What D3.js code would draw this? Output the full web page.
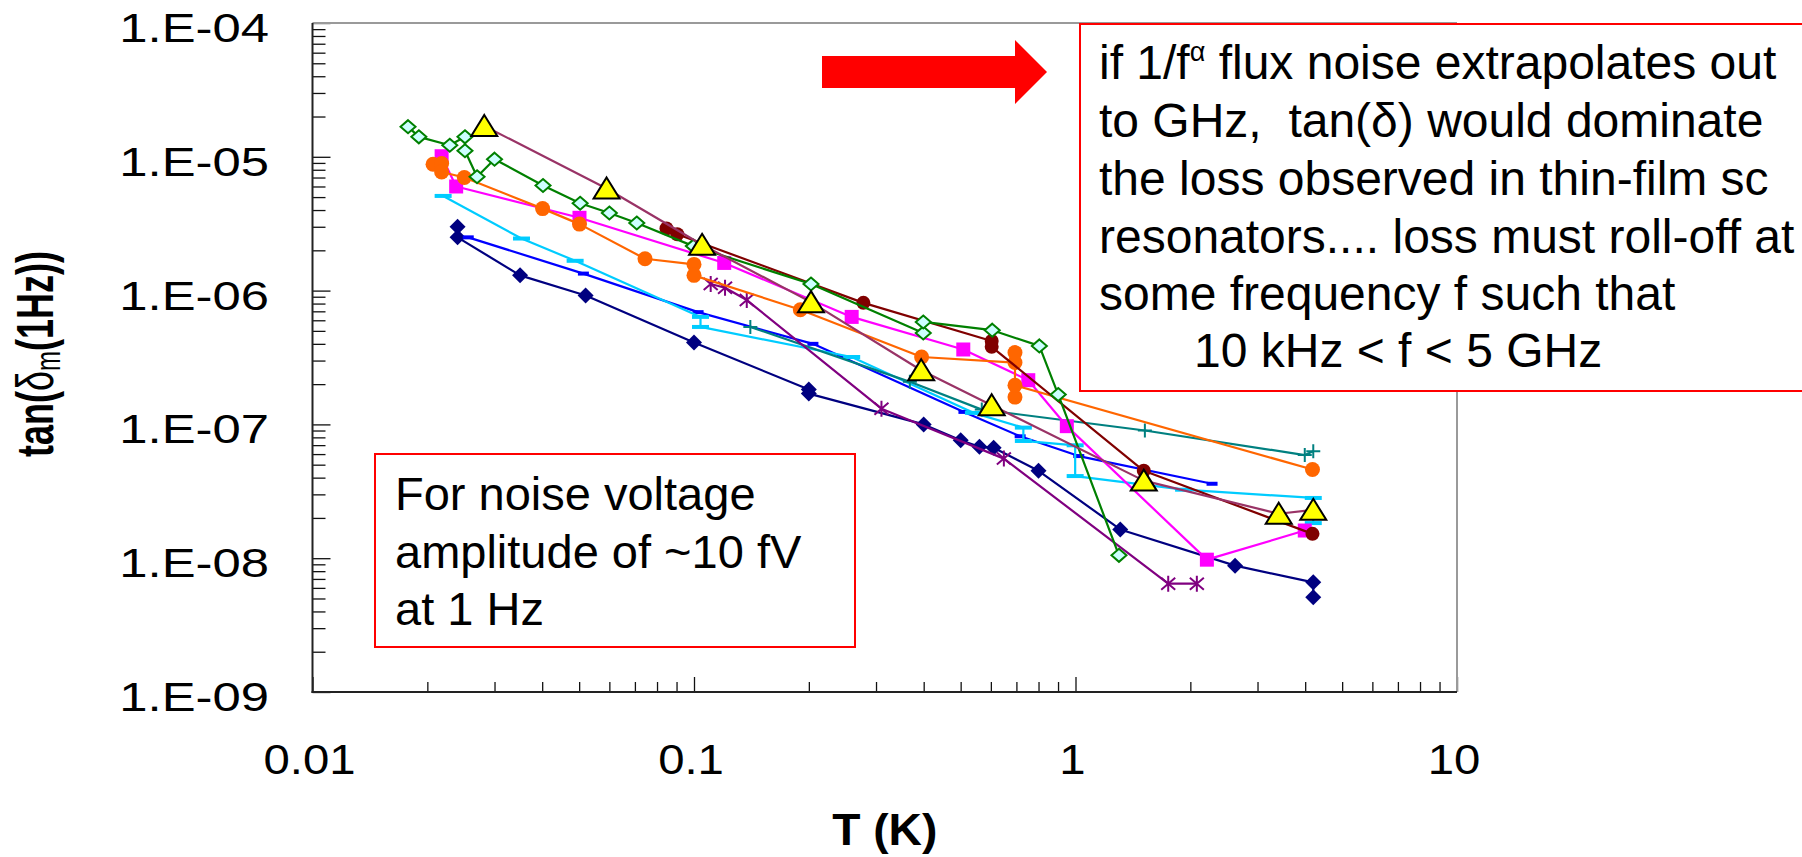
<!DOCTYPE html>
<html><head><meta charset="utf-8">
<script src="https://cdn.jsdelivr.net/npm/d3@7"></script>
<style>html,body{margin:0;padding:0;background:#fff;overflow:hidden}</style>
</head><body>
<svg id="chart" width="1802" height="857" xmlns="http://www.w3.org/2000/svg"></svg>
<script>
// ---------- data ----------
const xTickValues = [0.01, 0.1, 1, 10];
const xTickLabels = ["0.01", "0.1", "1", "10"];
const yTickValues = [1e-4, 1e-5, 1e-6, 1e-7, 1e-8, 1e-9];
const yTickLabels = ["1.E-04", "1.E-05", "1.E-06", "1.E-07", "1.E-08", "1.E-09"];

const navyT = [0.024,0.024,0.035,0.052,0.1,0.2,0.2,0.4,0.5,0.56,0.61,0.8,1.31,2.62,4.2,4.2];
const navyV = [3.0e-6,2.5e-6,1.3e-6,9.2e-7,4.1e-7,1.82e-7,1.7e-7,1.0e-7,7.6e-8,6.8e-8,6.7e-8,4.5e-8,1.64e-8,8.8e-9,6.6e-9,5.1e-9];

const blueT = [0.0256,0.0513,0.1025,0.205,0.51,0.716,1.02,2.28];
const blueV = [2.5e-6,1.34e-6,6.9e-7,4.0e-7,1.24e-7,8.15e-8,5.8e-8,3.6e-8];

const cyanT = [0.022,0.0353,0.0488,0.104,0.104,0.259,0.54,0.73,0.73,0.998,0.998,1.92,4.2,4.2];
const cyanV = [5.1e-6,2.45e-6,1.67e-6,6.36e-7,5.35e-7,3.19e-7,1.22e-7,9.46e-8,7.52e-8,6.98e-8,4.11e-8,3.25e-8,2.82e-8,1.83e-8];

const tealT = [0.1405,0.368,0.568,1.52,3.99,4.2];
const tealV = [5.35e-7,2.08e-7,1.29e-7,9.0e-8,5.9e-8,6.3e-8];

const purpleT = [0.1106,0.1206,0.1375,0.31,0.649,1.75,2.08];
const purpleV = [1.12e-6,1.05e-6,8.5e-7,1.31e-7,5.55e-8,6.45e-9,6.45e-9];

const magentaT = [0.0218,0.0238,0.0501,0.12,0.259,0.508,0.752,0.949,2.21,3.99];
const magentaV = [1.01e-5,6.0e-6,3.5e-6,1.61e-6,6.36e-7,3.63e-7,2.14e-7,9.7e-8,9.75e-9,1.61e-8];

const orangeT = [0.0207,0.0218,0.0218,0.025,0.0401,0.0501,0.0744,0.1,0.1,0.19,0.395,0.694,0.694,0.694,0.694,4.18];
const orangeV = [8.8e-6,8.9e-6,7.7e-6,7.0e-6,4.1e-6,3.14e-6,1.73e-6,1.57e-6,1.3e-6,7.2e-7,3.19e-7,2.9e-7,3.44e-7,1.6e-7,1.96e-7,4.6e-8];

const maroonT = [0.0847,0.0904,0.278,0.603,0.603,1.51,4.18];
const maroonV = [2.91e-6,2.64e-6,8.1e-7,4.2e-7,3.8e-7,4.5e-8,1.52e-8];

const greenT = [0.0178,0.019,0.0229,0.0251,0.0251,0.027,0.030,0.0402,0.0503,0.060,0.0708,0.0996,0.2026,0.399,0.399,0.605,0.804,0.901,1.30];
const greenV = [1.68e-5,1.41e-5,1.22e-5,1.41e-5,1.11e-5,7.1e-6,9.6e-6,6.1e-6,4.5e-6,3.8e-6,3.2e-6,2.15e-6,1.12e-6,4.83e-7,5.83e-7,5.06e-7,3.86e-7,1.67e-7,1.05e-8];

const triT = [0.0282,0.059,0.105,0.2026,0.394,0.603,1.51,3.41,4.2];
const triV = [1.70e-5,5.8e-6,2.2e-6,8.2e-7,2.54e-7,1.39e-7,3.8e-8,2.15e-8,2.3e-8];

// ---------- layout ----------
const svg = d3.select("#chart");
const FONT = "'Liberation Sans', Arial, Helvetica, sans-serif";
const L = 312.5, R = 1457, T = 23, B = 692;
const x = d3.scaleLog().domain([0.01, 10]).range([L, R]);
const y = d3.scaleLog().domain([1e-9, 1e-4]).range([B, T]);

svg.append("rect").attr("width", 1802).attr("height", 857).attr("fill", "#fff");

// minor tick values
const xMinor = [], yMinor = [];
for (let d = -2; d <= 0; d++) for (let k = 2; k <= 9; k++) xMinor.push(k * Math.pow(10, d));
for (let d = -9; d <= -5; d++) for (let k = 2; k <= 9; k++) yMinor.push(k * Math.pow(10, d));

function styleAxis(g) {
  g.select(".domain").remove();
  g.selectAll(".tick line").attr("stroke", "#111").attr("stroke-width", 1.3);
  g.selectAll(".tick text").remove();
}
svg.append("g").attr("transform", `translate(0,${B})`)
  .call(d3.axisBottom(x).tickValues(xMinor).tickSize(-10).tickSizeOuter(0).tickFormat("")).call(styleAxis);
svg.append("g").attr("transform", `translate(0,${B})`)
  .call(d3.axisBottom(x).tickValues(xTickValues).tickSize(-15).tickSizeOuter(0).tickFormat("")).call(styleAxis);
svg.append("g").attr("transform", `translate(${L},0)`)
  .call(d3.axisLeft(y).tickValues(yMinor).tickSize(-13).tickSizeOuter(0).tickFormat("")).call(styleAxis);
svg.append("g").attr("transform", `translate(${L},0)`)
  .call(d3.axisLeft(y).tickValues(yTickValues).tickSize(-18).tickSizeOuter(0).tickFormat("")).call(styleAxis);

// frame
svg.append("line").attr("x1", L).attr("x2", R).attr("y1", T).attr("y2", T).attr("stroke", "#9a9a9a").attr("stroke-width", 2);
svg.append("line").attr("x1", R).attr("x2", R).attr("y1", T).attr("y2", B).attr("stroke", "#9a9a9a").attr("stroke-width", 2);
svg.append("line").attr("x1", L).attr("x2", L).attr("y1", T).attr("y2", B + 1).attr("stroke", "#222").attr("stroke-width", 2);
svg.append("line").attr("x1", L - 1).attr("x2", R).attr("y1", B).attr("y2", B).attr("stroke", "#222").attr("stroke-width", 2);

// tick labels
yTickValues.forEach((v, i) => {
  svg.append("text").attr("transform", `translate(269,${y(v) + 19}) scale(1.27,1)`)
    .attr("text-anchor", "end").attr("font-family", FONT).attr("font-size", 40).attr("fill", "#000")
    .text(yTickLabels[i]);
});
xTickValues.forEach((v, i) => {
  svg.append("text").attr("transform", `translate(${x(v) - 3},774) scale(1.1,1)`)
    .attr("text-anchor", "middle").attr("font-family", FONT).attr("font-size", 43).attr("fill", "#000")
    .text(xTickLabels[i]);
});

// axis titles
svg.append("text").attr("transform", `translate(${(L + R) / 2},845) scale(1.05,1)`)
  .attr("text-anchor", "middle").attr("font-family", FONT).attr("font-weight", "bold").attr("font-size", 44)
  .text("T (K)");
const yt = svg.append("text").attr("transform", "translate(53,354) rotate(-90) scale(1,1.45)")
  .attr("text-anchor", "middle").attr("font-family", FONT).attr("font-weight", "bold").attr("font-size", 36);
yt.append("tspan").text("tan(");
yt.append("tspan").attr("font-weight", "normal").text("δ");
yt.append("tspan").attr("font-size", 24).attr("dy", 5).attr("font-weight", "normal").text("m");
yt.append("tspan").attr("dy", -5).text("(1Hz))");

// ---------- series ----------
const series = [
  { t: navyT, v: navyV, color: "#000080", marker: "diamond", fill: "#000080" },
  { t: blueT, v: blueV, color: "#0000FF", marker: "dashS", fill: "#0000FF" },
  { t: cyanT, v: cyanV, color: "#00CCFF", marker: "dashL", fill: "#00CCFF" },
  { t: tealT, v: tealV, color: "#008080", marker: "plus", fill: "none" },
  { t: purpleT, v: purpleV, color: "#800080", marker: "star", fill: "none" },
  { t: magentaT, v: magentaV, color: "#FF00FF", marker: "square", fill: "#FF00FF" },
  { t: orangeT, v: orangeV, color: "#FF6600", marker: "circle", fill: "#FF6600" },
  { t: maroonT, v: maroonV, color: "#800000", marker: "circleS", fill: "#800000" },
  { t: greenT, v: greenV, color: "#008000", marker: "odiamond", fill: "#CCFFFF" },
  { t: triT, v: triV, color: "#993366", marker: "triangle", fill: "#FFFF00" }
];

const markerPaths = {
  diamond: "M0,-8L8,0L0,8L-8,0Z",
  odiamond: "M0,-6.5L7.5,0L0,6.5L-7.5,0Z",
  square: "M-7,-7H7V7H-7Z",
  triangle: "M0,-11L13,10L-13,10Z",
  dashS: "M-5.5,-2H5.5V2H-5.5Z",
  dashL: "M-8.5,-2H8.5V2H-8.5Z",
  plus: "M-7,0H7M0,-7V7",
  star: "M0,-8V8M-7,-6L7,6M-7,6L7,-6"
};

const line = d3.line().x(d => x(d[0])).y(d => y(d[1]));

series.forEach(s => {
  const pts = s.t.map((t, i) => [t, s.v[i]]);
  const g = svg.append("g");
  g.append("path").attr("d", line(pts)).attr("fill", "none")
    .attr("stroke", s.color).attr("stroke-width", 2.2).attr("stroke-linejoin", "round");
  pts.forEach(p => {
    const cx = x(p[0]), cy = y(p[1]);
    if (s.marker === "circle" || s.marker === "circleS") {
      g.append("circle").attr("cx", cx).attr("cy", cy).attr("r", s.marker === "circle" ? 7.5 : 7).attr("fill", s.fill);
    } else {
      const m = g.append("path").attr("d", markerPaths[s.marker]).attr("transform", `translate(${cx},${cy})`);
      if (s.marker === "plus" || s.marker === "star") {
        m.attr("fill", "none").attr("stroke", s.color).attr("stroke-width", 2);
      } else if (s.marker === "odiamond") {
        m.attr("fill", s.fill).attr("stroke", s.color).attr("stroke-width", 2);
      } else if (s.marker === "triangle") {
        m.attr("fill", s.fill).attr("stroke", "#000").attr("stroke-width", 2).attr("stroke-linejoin", "miter");
      } else {
        m.attr("fill", s.fill);
      }
    }
  });
});

// ---------- annotations ----------
// red arrow
svg.append("path").attr("d", "M822,56H1015V40L1047,72L1015,104V88H822Z").attr("fill", "#FF0000");

// big text box
svg.append("rect").attr("x", 1080).attr("y", 24).attr("width", 760).attr("height", 367)
  .attr("fill", "#fff").attr("stroke", "#FF0000").attr("stroke-width", 2);
const bigLines = [
  ["if 1/f", "α", " flux noise extrapolates out"],
  ["to GHz,  tan(δ) would dominate"],
  ["the loss observed in thin-film sc"],
  ["resonators.... loss must roll-off at"],
  ["some frequency f such that"],
  ["10 kHz < f < 5 GHz"]
];
const bigBase = [79, 137, 195, 252.5, 310, 367];
bigLines.forEach((parts, i) => {
  const tx = svg.append("text").attr("x", i === 5 ? 1194 : 1099).attr("y", bigBase[i])
    .attr("font-family", FONT).attr("font-size", 48).attr("fill", "#000")
    .style("white-space", "pre").attr("xml:space", "preserve");
  if (parts.length === 1) tx.text(parts[0]);
  else {
    tx.append("tspan").text(parts[0]);
    tx.append("tspan").attr("font-size", 27).attr("dy", -18).text(parts[1]);
    tx.append("tspan").attr("dy", 18).text(parts[2]);
  }
});

// small text box
svg.append("rect").attr("x", 375).attr("y", 454).attr("width", 480).attr("height", 193)
  .attr("fill", "#fff").attr("stroke", "#FF0000").attr("stroke-width", 2);
const noteLines = ["For noise voltage", "amplitude of ~10 fV", "at 1 Hz"];
const noteBase = [510, 568, 625];
noteLines.forEach((s, i) => {
  svg.append("text").attr("x", 395).attr("y", noteBase[i]).attr("font-family", FONT)
    .attr("font-size", 47).attr("fill", "#000").text(s);
});
</script>
</body></html>
